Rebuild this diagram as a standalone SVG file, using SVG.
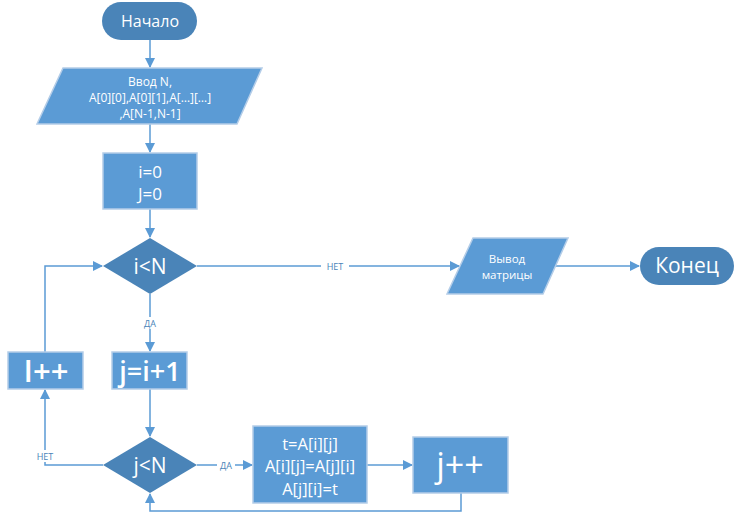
<svg xmlns="http://www.w3.org/2000/svg" width="740" height="514" viewBox="0 0 740 514">
<defs>
<marker id="ah" markerWidth="10" markerHeight="10" refX="9" refY="5" orient="auto" markerUnits="userSpaceOnUse">
<path d="M0,0 L10,5 L0,10 z" fill="#5b9bd5"/>
</marker>
<style>
.lt{fill:#5b9bd5;stroke:#b4cde8;stroke-width:1.5}
.dk{fill:#4a84b8;stroke:none}
.t{font-family:"Open Sans","Liberation Sans",sans-serif;fill:#ffffff;text-anchor:middle;dominant-baseline:central}
.c{fill:none;stroke:#5b9bd5;stroke-width:1.5}
.lb{font-family:"Open Sans","Liberation Sans",sans-serif;fill:#4a84b8;font-size:9px;text-anchor:middle;dominant-baseline:central}
.bg{fill:#ffffff}
</style>
</defs>
<rect width="740" height="514" fill="#ffffff"/>
<g id="connectors">
<path class="c" d="M150,40 V67" marker-end="url(#ah)"/>
<path class="c" d="M150,124 V152" marker-end="url(#ah)"/>
<path class="c" d="M150,209 V237" marker-end="url(#ah)"/>
<path class="c" d="M197,266 H459" marker-end="url(#ah)"/>
<path class="c" d="M555,266 H639" marker-end="url(#ah)"/>
<path class="c" d="M150,294 V351" marker-end="url(#ah)"/>
<path class="c" d="M45,352 V266 H102" marker-end="url(#ah)"/>
<path class="c" d="M150,389 V436" marker-end="url(#ah)"/>
<path class="c" d="M103,465 H45 V390" marker-end="url(#ah)"/>
<path class="c" d="M197,465 H252" marker-end="url(#ah)"/>
<path class="c" d="M367,465 H412" marker-end="url(#ah)"/>
<path class="c" d="M461,493 V511 H150 V494" marker-end="url(#ah)"/>
<rect class="bg" x="321" y="260" width="28" height="12"/>
<text class="lb" x="335" y="266">НЕТ</text>
<rect class="bg" x="141" y="317" width="18" height="12"/>
<text class="lb" x="150" y="323">ДА</text>
<rect class="bg" x="33" y="450" width="26" height="12"/>
<text class="lb" x="45" y="456">НЕТ</text>
<rect class="bg" x="217" y="459" width="18" height="12"/>
<text class="lb" x="226" y="465">ДА</text>
</g>
<g id="start">
<rect class="dk" x="102" y="2" width="95" height="38" rx="19"/>
<text class="t" x="150" y="21" font-size="16">Начало</text>
</g>
<g id="input">
<polygon class="lt" points="63,68 262,68 237,124 37,124"/>
<text class="t" x="150" y="81" font-size="12">Ввод N,</text>
<text class="t" x="150" y="97" font-size="12">A[0][0],A[0][1],A[…][…]</text>
<text class="t" x="150" y="113" font-size="12">,A[N-1,N-1]</text>
</g>
<g id="init">
<rect class="lt" x="103" y="153" width="94" height="56"/>
<text class="t" x="150" y="171" font-size="17">i=0</text>
<text class="t" x="150" y="193" font-size="17">J=0</text>
</g>
<g id="cond-i">
<polygon class="dk" points="150,238 197,266 150,294 103,266"/>
<text class="t" x="150" y="266" font-size="21">i&lt;N</text>
</g>
<g id="output">
<polygon class="lt" points="473,238 568,238 543,294 447,294"/>
<text class="t" x="507" y="258" font-size="11.5">Вывод</text>
<text class="t" x="507" y="274" font-size="11.5">матрицы</text>
</g>
<g id="end">
<rect class="dk" x="640" y="247" width="94" height="38" rx="19"/>
<text class="t" x="687" y="265" font-size="21">Конец</text>
</g>
<g id="set-j">
<rect class="lt" x="112" y="352" width="75" height="37"/>
<text class="t" x="150" y="370" font-size="27" font-weight="600">j=i+1</text>
</g>
<g id="inc-i">
<rect class="lt" x="8" y="352" width="75" height="37"/>
<text class="t" x="46" y="370" font-size="31" font-weight="600">I++</text>
</g>
<g id="cond-j">
<polygon class="dk" points="150,437 197,465 150,493 103,465"/>
<text class="t" x="150" y="465" font-size="21">j&lt;N</text>
</g>
<g id="swap">
<rect class="lt" x="253" y="426" width="114" height="77"/>
<text class="t" x="310" y="443" font-size="16.5">t=A[i][j]</text>
<text class="t" x="310" y="465" font-size="16.5">A[i][j]=A[j][i]</text>
<text class="t" x="310" y="488" font-size="16.5">A[j][i]=t</text>
</g>
<g id="inc-j">
<rect class="lt" x="413" y="437" width="95" height="56"/>
<text class="t" x="460" y="464" font-size="34">j++</text>
</g>
</svg>
